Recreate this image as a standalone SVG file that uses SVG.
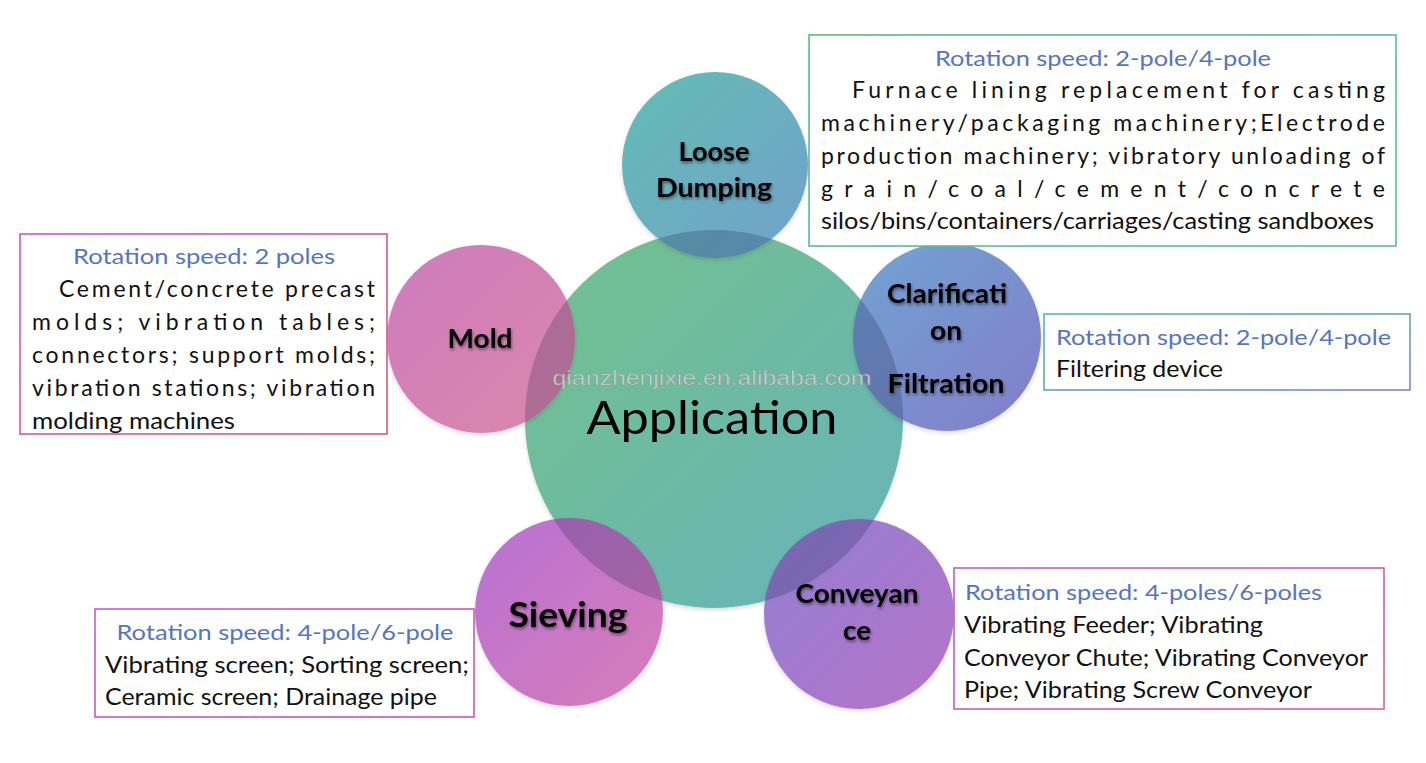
<svg xmlns="http://www.w3.org/2000/svg" width="1426" height="763" viewBox="0 0 1426 763">
<defs>
<style>
.title{font-family:Lato,"Liberation Sans",sans-serif;font-size:22px;fill:#5675c0}
.body{font-family:Lato,"Liberation Sans",sans-serif;font-size:23px;fill:#111}
.lbl{font-family:Lato,"Liberation Sans",sans-serif;font-weight:700;fill:#000;filter:url(#tshadow)}
.box{fill:#fff;stroke-width:1.6}
.ov{fill:#1a1a40;fill-opacity:0.2}
</style>
<filter id="tshadow" x="-20%" y="-40%" width="140%" height="180%">
<feDropShadow dx="1" dy="2" stdDeviation="1.4" flood-color="#000" flood-opacity="0.45"/>
</filter>
<filter id="cshadow" x="-10%" y="-10%" width="120%" height="120%">
<feDropShadow dx="0" dy="2" stdDeviation="2" flood-color="#000" flood-opacity="0.15"/>
</filter>
<linearGradient id="gC" x1="0" y1="0" x2="1" y2="1"><stop offset="0" stop-color="#72c18c"/><stop offset="1" stop-color="#68b3bb"/></linearGradient>
<linearGradient id="gL" x1="0" y1="0" x2="1" y2="1"><stop offset="0" stop-color="#5cbab0"/><stop offset="1" stop-color="#6c9dcb"/></linearGradient>
<linearGradient id="gM" x1="0" y1="0" x2="1" y2="1"><stop offset="0" stop-color="#cc76bc"/><stop offset="1" stop-color="#da82a8"/></linearGradient>
<linearGradient id="gF" x1="0" y1="0" x2="1" y2="1"><stop offset="0" stop-color="#6b9fd2"/><stop offset="1" stop-color="#7e78c6"/></linearGradient>
<linearGradient id="gS" x1="0" y1="0" x2="1" y2="1"><stop offset="0" stop-color="#b56bd2"/><stop offset="1" stop-color="#d678b6"/></linearGradient>
<linearGradient id="gV" x1="0" y1="0" x2="1" y2="1"><stop offset="0" stop-color="#8c7ad2"/><stop offset="1" stop-color="#b46ec6"/></linearGradient>
<linearGradient id="bTR" x1="0" y1="0" x2="1" y2="1"><stop offset="0" stop-color="#55bf7c"/><stop offset="1" stop-color="#5fb6ac"/></linearGradient>
<linearGradient id="bL" x1="0" y1="0" x2="1" y2="1"><stop offset="0" stop-color="#c458d6"/><stop offset="1" stop-color="#e2566e"/></linearGradient>
<linearGradient id="bR" x1="0" y1="0" x2="1" y2="1"><stop offset="0" stop-color="#58bc9c"/><stop offset="1" stop-color="#7a86c8"/></linearGradient>
<linearGradient id="bBL" x1="0" y1="0" x2="1" y2="1"><stop offset="0" stop-color="#c05cd2"/><stop offset="1" stop-color="#d2569a"/></linearGradient>
<linearGradient id="bBR" x1="0" y1="0" x2="1" y2="1"><stop offset="0" stop-color="#b460d2"/><stop offset="1" stop-color="#d8609c"/></linearGradient>
<clipPath id="clipC"><circle cx="714" cy="419" r="189"/></clipPath>
</defs>
<rect width="1426" height="763" fill="#fff"/>

<g id="application">
<circle cx="714" cy="419" r="189" fill="url(#gC)" filter="url(#cshadow)"/>
</g>

<g id="loose-dumping">
<circle cx="715" cy="165" r="93" fill="url(#gL)" fill-opacity="0.95" filter="url(#cshadow)"/>
<circle class="ov" cx="715" cy="165" r="93" clip-path="url(#clipC)"/>
<text class="lbl" x="714" y="161" font-size="26" text-anchor="middle" textLength="71" lengthAdjust="spacingAndGlyphs">Loose</text>
<text class="lbl" x="714" y="197" font-size="26" text-anchor="middle" textLength="116" lengthAdjust="spacingAndGlyphs">Dumping</text>
</g>

<g id="mold">
<circle cx="481" cy="339" r="94" fill="url(#gM)" fill-opacity="0.95" filter="url(#cshadow)"/>
<circle class="ov" cx="481" cy="339" r="94" clip-path="url(#clipC)"/>
<text class="lbl" x="480" y="348" font-size="27" text-anchor="middle" textLength="65" lengthAdjust="spacingAndGlyphs">Mold</text>
</g>

<g id="clarification-filtration">
<circle cx="947" cy="337" r="94" fill="url(#gF)" fill-opacity="0.95" filter="url(#cshadow)"/>
<circle class="ov" cx="947" cy="337" r="94" clip-path="url(#clipC)"/>
<text class="lbl" x="947" y="303" font-size="26" text-anchor="middle" textLength="120" lengthAdjust="spacingAndGlyphs">Clarificati</text>
<text class="lbl" x="946" y="340" font-size="26" text-anchor="middle" textLength="32" lengthAdjust="spacingAndGlyphs">on</text>
<text class="lbl" x="946" y="393" font-size="26" text-anchor="middle" textLength="117" lengthAdjust="spacingAndGlyphs">Filtration</text>
</g>

<g id="sieving">
<circle cx="569" cy="612" r="94" fill="url(#gS)" fill-opacity="0.95" filter="url(#cshadow)"/>
<circle class="ov" cx="569" cy="612" r="94" clip-path="url(#clipC)"/>
<text class="lbl" x="568" y="627" font-size="35" text-anchor="middle" textLength="119" lengthAdjust="spacingAndGlyphs">Sieving</text>
</g>

<g id="conveyance">
<circle cx="859" cy="614" r="95" fill="url(#gV)" fill-opacity="0.95" filter="url(#cshadow)"/>
<circle class="ov" cx="859" cy="614" r="95" clip-path="url(#clipC)"/>
<text class="lbl" x="857" y="603" font-size="26" text-anchor="middle" textLength="123" lengthAdjust="spacingAndGlyphs">Conveyan</text>
<text class="lbl" x="857" y="640" font-size="26" text-anchor="middle" textLength="28" lengthAdjust="spacingAndGlyphs">ce</text>
</g>

<g id="application-label">
<text x="712" y="385" font-family="Liberation Sans,Arial,sans-serif" font-size="20" text-anchor="middle" textLength="319" lengthAdjust="spacingAndGlyphs" fill="#e4e4e4" fill-opacity="0.75" stroke="#8a8a8a" stroke-width="0.6" stroke-opacity="0.7">qianzhenjixie.en.alibaba.com</text>
<text x="712" y="434" font-family="Lato,Liberation Sans,sans-serif" font-size="46" text-anchor="middle" textLength="251" lengthAdjust="spacingAndGlyphs" fill="#000">Application</text>
</g>

<g id="box-loose-dumping">
<rect class="box" x="809" y="35" width="587" height="211" stroke="url(#bTR)"/>
<text class="title" x="1103" y="66" text-anchor="middle" textLength="336" lengthAdjust="spacingAndGlyphs">Rotation speed: 2-pole/4-pole</text>
<text class="body" x="852" y="98" textLength="533" lengthAdjust="spacing">Furnace lining replacement for casting</text>
<text class="body" x="821" y="131" textLength="564" lengthAdjust="spacing">machinery/packaging machinery;Electrode</text>
<text class="body" x="821" y="164" textLength="564" lengthAdjust="spacing">production machinery; vibratory unloading of</text>
<text class="body" x="821" y="197" textLength="564" lengthAdjust="spacing">grain/coal/cement/concrete</text>
<text class="body" x="821" y="229" textLength="553" lengthAdjust="spacingAndGlyphs">silos/bins/containers/carriages/casting sandboxes</text>
</g>

<g id="box-mold">
<rect class="box" x="20" y="234" width="367" height="200" stroke="url(#bL)"/>
<text class="title" x="204" y="264" text-anchor="middle" textLength="262" lengthAdjust="spacingAndGlyphs">Rotation speed: 2 poles</text>
<text class="body" x="59" y="297" textLength="316" lengthAdjust="spacing">Cement/concrete precast</text>
<text class="body" x="32" y="330" textLength="343" lengthAdjust="spacing">molds; vibration tables;</text>
<text class="body" x="32" y="363" textLength="343" lengthAdjust="spacing">connectors; support molds;</text>
<text class="body" x="32" y="396" textLength="343" lengthAdjust="spacing">vibration stations; vibration</text>
<text class="body" x="32" y="429" textLength="203" lengthAdjust="spacingAndGlyphs">molding machines</text>
</g>

<g id="box-clarification">
<rect class="box" x="1044" y="314" width="366" height="76" stroke="url(#bR)"/>
<text class="title" x="1056" y="345" textLength="335" lengthAdjust="spacingAndGlyphs">Rotation speed: 2-pole/4-pole</text>
<text class="body" x="1056" y="377" textLength="167" lengthAdjust="spacingAndGlyphs">Filtering device</text>
</g>

<g id="box-sieving">
<rect class="box" x="95" y="609" width="379" height="108" stroke="url(#bBL)"/>
<text class="title" x="285" y="640" text-anchor="middle" textLength="337" lengthAdjust="spacingAndGlyphs">Rotation speed: 4-pole/6-pole</text>
<text class="body" x="105" y="673" textLength="364" lengthAdjust="spacingAndGlyphs">Vibrating screen; Sorting screen;</text>
<text class="body" x="105" y="705" textLength="332" lengthAdjust="spacingAndGlyphs">Ceramic screen; Drainage pipe</text>
</g>

<g id="box-conveyance">
<rect class="box" x="954" y="568" width="430" height="141" stroke="url(#bBR)"/>
<text class="title" x="965" y="600" textLength="357" lengthAdjust="spacingAndGlyphs">Rotation speed: 4-poles/6-poles</text>
<text class="body" x="964" y="633" textLength="299" lengthAdjust="spacingAndGlyphs">Vibrating Feeder; Vibrating</text>
<text class="body" x="964" y="666" textLength="404" lengthAdjust="spacingAndGlyphs">Conveyor Chute; Vibrating Conveyor</text>
<text class="body" x="964" y="698" textLength="348" lengthAdjust="spacingAndGlyphs">Pipe; Vibrating Screw Conveyor</text>
</g>
</svg>
